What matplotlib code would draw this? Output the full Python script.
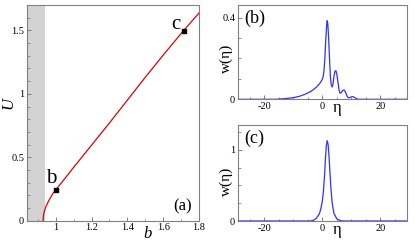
import matplotlib
matplotlib.use('Agg')
import matplotlib.pyplot as plt
from matplotlib.ticker import MultipleLocator, FuncFormatter

plt.rcParams['font.family'] = ['Liberation Serif', 'DejaVu Serif']
plt.rcParams['font.size'] = 7.5

# panel (a): U versus b
b_a = [0.93, 0.932, 0.936, 0.945, 0.955, 0.97, 0.985, 1.0, 1.05, 1.1, 1.2, 1.3, 1.4, 1.5, 1.6, 1.7, 1.8]
U_a = [0, 0.04, 0.07, 0.11, 0.14, 0.18, 0.215, 0.242, 0.33, 0.42, 0.595, 0.77, 0.95, 1.13, 1.305, 1.475, 1.637]
pts_b = [1.0, 1.715]
pts_U = [0.242, 1.495]
gray_edge = 0.94

# panel (b): profile w(eta)
eta_b = [-29, -16, -13, -10, -8, -6, -4, -3, -2, -1, -0.5, 0, 0.3, 0.6, 0.9, 1.2, 1.5, 1.7, 1.9,
         2.2, 2.5, 2.8, 3.1, 3.4, 3.7, 4.0, 4.4, 4.7, 5.0, 5.4, 5.8, 6.1, 6.5, 7.0, 7.5, 8.0,
         8.5, 8.9, 9.4, 10.0, 10.6, 11.2, 11.8, 12.5, 14, 29]
w_b = [0, 0, 0.003, 0.008, 0.014, 0.024, 0.038, 0.048, 0.06, 0.075, 0.085, 0.098, 0.11, 0.14, 0.2,
       0.29, 0.36, 0.385, 0.37, 0.3, 0.2, 0.11, 0.07, 0.06, 0.075, 0.11, 0.138, 0.14, 0.125, 0.085,
       0.045, 0.03, 0.032, 0.043, 0.046, 0.035, 0.017, 0.008, 0.008, 0.012, 0.013, 0.008, 0.003,
       0, 0, 0]

# panel (c): profile w(eta)
eta_c = [-29, -4, -3, -2, -1, -0.5, 0, 0.4, 0.8, 1.1, 1.4, 1.7, 2.0, 2.3, 2.6, 3.0, 3.4, 4.0, 5.0, 6.0, 7, 29]
w_c = [0, 0, 0.01, 0.04, 0.1, 0.17, 0.27, 0.42, 0.65, 0.88, 1.06, 1.13, 1.08, 0.93, 0.72, 0.45, 0.26,
       0.11, 0.03, 0.01, 0, 0]

W, H = 415, 245
fig = plt.figure(figsize=(W/100, H/100), dpi=100)

def box(l, r, t, b):
    return [l/W, 1-b/H, (r-l)/W, (b-t)/H]

def fmt(v, p):
    return '%g' % v

def style(ax):
    for s in ax.spines.values():
        s.set_color('#808080')
        s.set_linewidth(0.8)
    ax.tick_params(which='both', direction='in', top=False, right=False, color='#808080', pad=2)
    ax.tick_params(which='major', length=3, width=0.7)
    ax.tick_params(which='minor', length=1.8, width=0.6)
    ax.xaxis.set_major_formatter(FuncFormatter(fmt))
    ax.yaxis.set_major_formatter(FuncFormatter(fmt))

# ---------------------------------------------------- (a)
ax = fig.add_axes(box(27, 199, 5, 220.7))
ax.axvspan(0.8, gray_edge, color='#d3d3d3', lw=0, zorder=0)
ax.plot(b_a, U_a, color='#e00000', lw=0.9, zorder=3)
ax.scatter(pts_b, pts_U, s=9, marker='s', color='k', zorder=4)
ax.text(1.005, 0.255, 'b', fontsize=15, ha='right', va='bottom')
ax.text(1.695, 1.47, 'c', fontsize=15, ha='right', va='bottom')
ax.text(0.96, 0.03, '(a)', fontsize=12, ha='right', va='bottom', transform=ax.transAxes)
ax.set_xlim(0.84, 1.8)
ax.set_ylim(0, 1.7)
ax.xaxis.set_major_locator(MultipleLocator(0.2))
ax.xaxis.set_minor_locator(MultipleLocator(0.1))
ax.yaxis.set_major_locator(MultipleLocator(0.5))
ax.yaxis.set_minor_locator(MultipleLocator(0.1))
style(ax)
ax.text(0.70, -0.062, 'b', fontsize=12, style='italic', ha='center', va='center', transform=ax.transAxes)
ax.text(-0.105, 0.546, 'U', fontsize=12, style='italic', rotation=90, ha='center', va='center',
        transform=ax.transAxes)

# ---------------------------------------------------- (b) and (c)
for (t, bt, eta, w, lab, ytop, ymaj, ymin, wy) in [(5, 99.3, eta_b, w_b, '(b)', 0.462, 0.4, 0.1, 0.43),
                                                     (125, 221, eta_c, w_c, '(c)', 1.35, 1.0, 0.25, 0.41)]:
    ax = fig.add_axes(box(238, 406.5, t, bt))
    ax.plot(eta, w, color='#3030ff', lw=0.9, zorder=3)
    ax.set_xlim(-29, 29)
    ax.set_ylim(0, ytop)
    ax.xaxis.set_major_locator(MultipleLocator(20))
    ax.xaxis.set_minor_locator(MultipleLocator(5))
    ax.yaxis.set_major_locator(MultipleLocator(ymaj))
    ax.yaxis.set_minor_locator(MultipleLocator(ymin))
    style(ax)
    ax.text(0.04, 0.95, lab, fontsize=13, ha='left', va='top', transform=ax.transAxes)
    ax.text(0.588, -0.093, 'η', fontsize=12, ha='center', va='center', transform=ax.transAxes)
    ax.text(-0.067, wy, 'w(η)', fontsize=11, rotation=90, ha='center', va='center', transform=ax.transAxes)

fig.savefig('out.png', dpi=100)
